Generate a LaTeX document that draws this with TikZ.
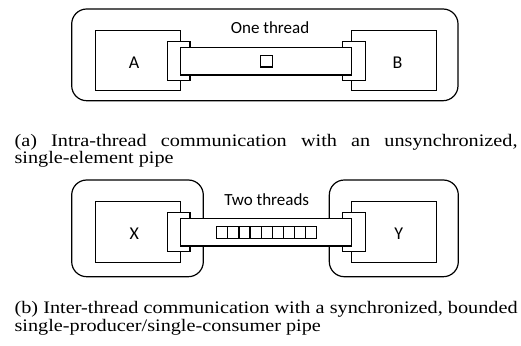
\documentclass[tikz,border=0pt]{standalone}
\usepackage{fontspec}
\setmainfont{Liberation Serif}
\newfontfamily\diagfont{Carlito}
\newfontfamily\capfont[FakeStretch=1.15]{Liberation Serif}

\tikzset{
  thread/.style={draw, rounded corners=15pt, inner sep=0pt},
  actor/.style={draw, fill=white, inner sep=0pt, minimum width=85pt},
  plug/.style={draw, fill=white, inner sep=0pt, minimum width=22.7pt, minimum height=39pt},
  pipebody/.style={draw, fill=white, inner sep=0pt, minimum width=171pt},
  slot/.style={draw, fill=white, inner sep=0pt, minimum width=11.5pt, minimum height=11.5pt},
  actorname/.style={font=\diagfont\fontsize{18}{18}\selectfont, inner sep=0pt},
  threadname/.style={font=\diagfont\fontsize{17}{17}\selectfont, inner sep=0pt, anchor=base},
  caption/.style={inner sep=0pt, anchor=base west}
}

\begin{document}
\begin{tikzpicture}[x=1pt, y=-1pt, line width=1.2pt]
  \useasboundingbox (0,0) rectangle (521,345);

  % ---------- (a) one thread, single-element pipe ----------
  \node[thread, minimum width=386.3pt, minimum height=91.7pt] (threadA) at (264.85,54.85) {};
  \node[actor, minimum height=59.6pt] (boxA) at (138.2,60.5) {};
  \node[actor, minimum height=59.6pt] (boxB) at (394.2,60.5) {};
  \node[plug] (plugA) at (178.65,61.2) {};
  \node[plug] (plugB) at (353.75,61.2) {};
  \node[pipebody, minimum height=27.3pt] (pipeAB) at (266.2,61.35) {};
  \node[slot] (single) at (266.6,61.2) {};
  \node[actorname] (nameA) at (134.2,62.5) {A};
  \node[actorname] (nameB) at (397.5,62.5) {B};
  \node[threadname] (oneThread) at (270,33.3) {One thread};

  \node[caption] (capA) at (14,146) {\parbox[t]{503pt}{\capfont\fontsize{17.6}{17.5}\selectfont
    (a) Intra-thread communication with an unsynchronized,\linebreak
    single-element pipe}};

  % ---------- (b) two threads, bounded SPSC pipe ----------
  \node[thread, minimum width=131.6pt, minimum height=96.7pt] (threadX) at (137.5,228.35) {};
  \node[thread, minimum width=129pt, minimum height=96.7pt] (threadY) at (393.8,228.35) {};
  \node[actor, minimum height=60.6pt] (boxX) at (138.2,232) {};
  \node[actor, minimum height=60.6pt] (boxY) at (394.2,232) {};
  \node[plug] (plugX) at (178.65,232.2) {};
  \node[plug] (plugY) at (353.75,232.2) {};
  \node[pipebody, minimum height=27.7pt] (pipeXY) at (266.2,232.15) {};
  \foreach \i in {1,...,9} {
    \node[slot, minimum width=11.11pt, minimum height=11.6pt] (cell\i)
      at ({216.7+11.11*(\i-0.5)},232.5) {};
  }
  \node[actorname] (nameX) at (134.2,234.2) {X};
  \node[actorname] (nameY) at (398.8,234.2) {Y};
  \node[threadname] (twoThreads) at (266.7,205.7) {Two threads};

  \node[caption] (capB) at (14,313.5) {\parbox[t]{503pt}{\capfont\fontsize{17.6}{17.5}\selectfont
    (b) Inter-thread communication with a synchronized, bounded\linebreak
    single-producer/single-consumer pipe}};
\end{tikzpicture}
\end{document}
